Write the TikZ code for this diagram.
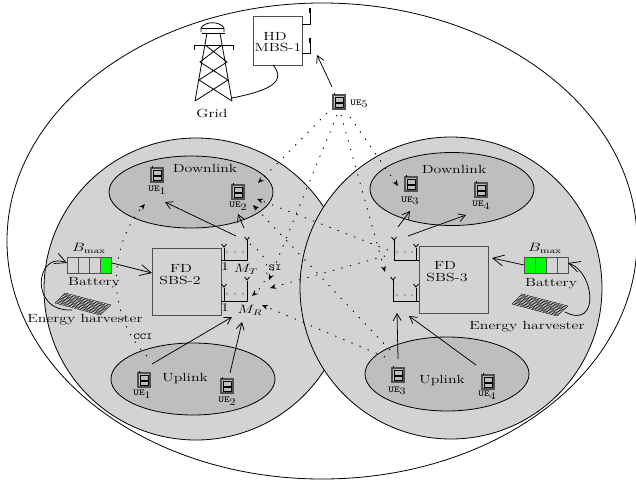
\documentclass[tikz,border=0pt]{standalone}
\usepackage{amsmath,amssymb}
\usepackage{tikz}
\usetikzlibrary{arrows.meta,calc}
\usepackage{xcolor}
\definecolor{cellgray}{HTML}{D3D3D3}
\definecolor{linkgray}{HTML}{BEBEBE}
\definecolor{edgegray}{HTML}{505050}
\newcommand{\wtext}[1]{\scalebox{1.34}[1]{#1}}
\newcommand{\uetext}[1]{\scalebox{1.2}[1]{\texttt{UE}\raisebox{-2.5pt}{\rmfamily\fontsize{10}{10}\selectfont #1}}}
\tikzset{
  txt/.style={inner sep=0pt,font=\fontsize{11.8}{11.8}\selectfont},
  uelabel/.style={inner sep=0pt,font=\fontsize{9}{9}\selectfont},
  ttlabel/.style={inner sep=0pt,font=\ttfamily\fontsize{9}{9}\selectfont},
  sbsbox/.style={draw=edgegray,line width=0.9pt,fill=cellgray,minimum width=69pt,minimum height=67pt,inner sep=0pt},
  solid link/.style={-{Straight Barb[length=7pt,width=8pt]},line width=0.75pt},
  big link/.style={-{Straight Barb[length=11pt,width=11pt]},line width=0.75pt},
  dot link/.style={-{Stealth[open,length=6pt,width=5pt]},line width=0.9pt,dash pattern=on 1.3pt off 7.5pt},
  wire/.style={line width=0.8pt},
  ant/.pic={\draw[wire] (-2.5,-3) -- (0,0) -- (2.5,-3);},
  phone/.pic={
    \draw[edgegray,line width=1.1pt,fill=linkgray] (-6,-7) rectangle (6,7);
    \draw[line width=0.7pt] (-4,-4.5) rectangle (4,0);
    \draw[line width=0.7pt] (-4,1.5) rectangle (4,5.5);
    \draw[line width=0.8pt] (-5,-7) -- (-5,-9.5);
  },
  panel/.pic={
    \foreach \t in {0,0.0625,...,1.01}
      \draw[line width=0.35pt] ({46*\t},{12*\t}) -- ({-10+45*\t},{10+12*\t});
    \foreach \s in {0,0.125,...,1.01}
      \draw[line width=0.35pt] ({-10*\s},{10*\s}) -- ({46-11*\s},{12+10*\s});
  }
}
\begin{document}
\begin{tikzpicture}[x=1pt,y=-1pt]
\useasboundingbox (0,0) rectangle (636,479);
\fill[white] (0,0) rectangle (636,479);
\draw[line width=0.8pt] (322,241) ellipse [x radius=315,y radius=238];
\draw[line width=0.8pt,fill=cellgray] (196,289) ellipse [x radius=152,y radius=151];
\draw[line width=0.8pt,fill=cellgray] (451,288) ellipse [x radius=151,y radius=151];
\draw[line width=0.8pt,fill=linkgray] (191,192) ellipse [x radius=82,y radius=36];
\draw[line width=0.8pt,fill=linkgray] (193,379) ellipse [x radius=82,y radius=36];
\draw[line width=0.8pt,fill=linkgray] (452,189) ellipse [x radius=82,y radius=36.5];
\draw[line width=0.8pt,fill=linkgray] (447,374) ellipse [x radius=82,y radius=37];

\node[txt] (dlleft) at (205,168) {\wtext{Downlink}};
\node[txt] (ulleft) at (185,379) {\wtext{Uplink}};
\node[txt] (dlright) at (454,169) {\wtext{Downlink}};
\node[txt] (ulright) at (442,381) {\wtext{Uplink}};

% phones
\foreach \px/\py in {157/175,238/192,411/184,481/190,339/102,144/380,227/386,398/375,488/382}
  \pic at (\px,\py) {phone};
\node[uelabel] (ue1d) at (157,190) {\uetext{1}};
\node[uelabel] (ue2d) at (238,206) {\uetext{2}};
\node[uelabel] (ue3d) at (410,201) {\uetext{3}};
\node[uelabel] (ue4d) at (481,205) {\uetext{4}};
\node[uelabel] (ue5) at (359,104) {\uetext{5}};
\node[uelabel] (ue1u) at (142,394) {\uetext{1}};
\node[uelabel] (ue2u) at (227,401) {\uetext{2}};
\node[uelabel] (ue3u) at (397,391) {\uetext{3}};
\node[uelabel] (ue4u) at (487,395) {\uetext{4}};

% macro cell
\node[draw=edgegray,line width=0.8pt,fill=white,minimum width=49pt,minimum height=49pt,inner sep=0pt] (mbs) at (277.5,40.5) {};
\node[txt] (mbshd) at (275,36) {\wtext{HD}};
\node[txt] (mbsname) at (278,47) {\wtext{MBS-1}};
\draw[wire] (302,24) -- (310,24) -- (310,8);
\draw[wire] (302,53) -- (310,53) -- (310,38);
\draw[line width=1.2pt] (310,13) -- (310,8);
\draw[line width=1.2pt] (310,43) -- (310,38);

% tower
\draw[line width=0.8pt] (207,33) -- (195,101) (220,33) -- (232,101);
\draw[line width=0.8pt] (202,33) -- (225,33) (194,45) -- (233,45) (194,45) -- (194,50) (233,45) -- (233,50);
\draw[line width=0.8pt] (205,45) -- (227,62) -- (199,80) -- (232,101) (222,45) -- (200,62) -- (228,80) -- (195,101);
\draw[line width=0.8pt] (201,32) -- (201,28) .. controls (205,21) and (220,21) .. (224,28) -- (224,32);
\draw[line width=0.8pt] (201,28) -- (224,28);
\node[txt] (grid) at (212,113) {\wtext{Grid}};
\coordinate (gridfoot) at (232,98);
\coordinate (mbsfoot) at (273,65);
\draw[wire] (gridfoot) .. controls (262,92) and (289,84) .. (mbsfoot);

% small cell 2
\node[sbsbox] (sbs2) at (186.5,281.5) {};
\node[txt] (sbs2a) at (181,268) {\wtext{FD}};
\node[txt] (sbs2b) at (180,280) {\wtext{SBS-2}};
\draw[wire] (221,260) -- (247,260) -- (247,240) (224,260) -- (224,248);
\draw[wire] (221,301) -- (247,301) -- (247,281) (224,301) -- (224,288);
\foreach \ax/\ay in {224/247,247/240,224/287,247/280,394/240,416/247,393/280,416/287}
  \pic at (\ax,\ay) {ant};
\foreach \ax in {227,235,243}
  \fill (\ax,252) circle (0.7) (\ax,294) circle (0.7);
\node[txt] (one2t) at (225,267) {\wtext{1}};
\node[txt] (mt) at (246,269) {\wtext{$M_T$}};
\node[txt] (one2r) at (225,308) {\wtext{1}};
\node[txt] (mr) at (250,310) {\wtext{$M_R$}};
\node[ttlabel] (si) at (275,268) {\wtext{SI}};
\node[ttlabel] (cci) at (143,337) {\wtext{CCI}};

% small cell 3
\node[sbsbox] (sbs3) at (453.5,280) {};
\node[txt] (sbs3a) at (445,265) {\wtext{FD}};
\node[txt] (sbs3b) at (447,277) {\wtext{SBS-3}};
\draw[wire] (419,260) -- (394,260) -- (394,240) (416,260) -- (416,248);
\draw[wire] (419,301) -- (393,301) -- (393,280) (416,301) -- (416,288);
\foreach \ax in {397,405,412}
  \fill (\ax,252) circle (0.7) (\ax,295) circle (0.7);

% batteries
\foreach \bx/\col in {67/cellgray,78/cellgray,89/cellgray,100/green,524/green,535/green,546/cellgray,557/cellgray}
  \draw[edgegray,line width=0.9pt,fill=\col] (\bx,257) rectangle ++(11,16);
\node[txt] (bmaxl) at (89,248) {\wtext{$B_{\max}$}};
\node[txt] (batl) at (94,283) {\wtext{Battery}};
\node[txt] (bmaxr) at (545,248) {\wtext{$B_{\max}$}};
\node[txt] (batr) at (551,284) {\wtext{Battery}};
\node[txt] (ehl) at (85,320) {\wtext{Energy harvester}};
\node[txt] (ehr) at (527,327) {\wtext{Energy harvester}};
\pic at (65,293) {panel};
\pic at (522,294) {panel};

% end points
\foreach \cname/\cx/\cy in {
  batlout/112/263,batlin/67/263,batrout/524/265,batrin/568/263,
  sbs2in/152/273,sbs3out/492/258,panl/72/310,panr/565/312,
  uefive/332/87,mbsin/317/55,
  a1/236/236,a2/165/202,a3/244/228,a4/238/214,
  a5/152/364,a6/232/317,a7/230/373,a8/242/322,
  a9/398/227,a10/410/211,a11/408/236,a12/466/215,
  a13/398/359,a14/397/313,a15/476/365,a16/409/316,
  d1/327/113,d2/258/183,d3/337/115,d4/269/280,
  d5/341/115,d6/385/272,d7/350/117,d8/398/186,
  d9/250/244,d10/252/296,d11/385/256,d12/270/288,
  d13/388/250,d14/257/199,d15/390/350,d16/253/205,
  d17/385/357,d18/262/305,d19/147/356,d20/145/204}
  \coordinate (\cname) at (\cx,\cy);

% solid links
\draw[big link] (batlout) -- (sbs2in);
\draw[big link] (batrout) -- (sbs3out);
\draw[big link] (panl) .. controls (28,312) and (36,250) .. (batlin);
\draw[big link] (panr) .. controls (600,330) and (595,272) .. (batrin);
\draw[solid link] (uefive) -- (mbsin);
\foreach \from/\to in {a1/a2,a3/a4,a5/a6,a7/a8,a9/a10,a11/a12,a13/a14,a15/a16}
  \draw[solid link] (\from) -- (\to);

% interference
\foreach \from/\to in {d1/d2,d3/d4,d5/d6,d7/d8,d11/d12,d13/d14,d15/d16,d17/d18}
  \draw[dot link] (\from) -- (\to);
\draw[dot link] (d9) .. controls (272,258) and (272,278) .. (d10);
\draw[dot link] (d19) .. controls (106,316) and (108,246) .. (d20);
\end{tikzpicture}
\end{document}
